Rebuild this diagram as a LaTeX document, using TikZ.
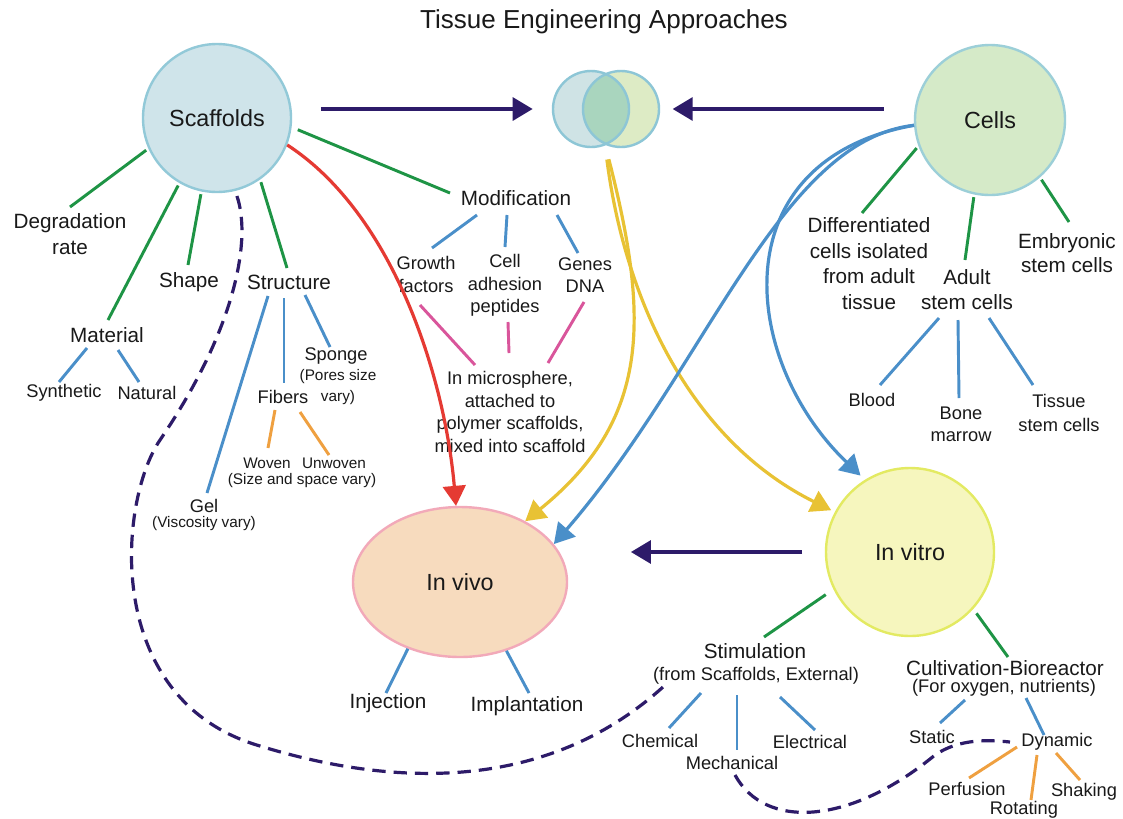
\documentclass[tikz,border=0pt]{standalone}
\usepackage{fontspec}
\setmainfont{Liberation Sans}
\usetikzlibrary{arrows.meta,shapes.geometric,calc}
\definecolor{cnavy}{RGB}{45,27,105}
\definecolor{cgreen}{RGB}{30,148,69}
\definecolor{cblue}{RGB}{74,143,201}
\definecolor{cred}{RGB}{229,58,51}
\definecolor{cyellow}{RGB}{232,194,52}
\definecolor{cpink}{RGB}{217,85,155}
\definecolor{corange}{RGB}{239,160,64}
\definecolor{scaffill}{RGB}{207,228,234}
\definecolor{scafdraw}{RGB}{146,201,216}
\definecolor{cellfill}{RGB}{213,234,200}
\definecolor{celldraw}{RGB}{156,207,216}
\definecolor{vlfill}{RGB}{207,227,229}
\definecolor{vrfill}{RGB}{221,235,197}
\definecolor{vofill}{RGB}{169,213,190}
\definecolor{vdraw}{RGB}{141,198,214}
\definecolor{vivofill}{RGB}{247,219,190}
\definecolor{vivodraw}{RGB}{242,169,185}
\definecolor{vitrofill}{RGB}{246,246,190}
\definecolor{vitrodraw}{RGB}{227,234,98}
\definecolor{txt}{RGB}{25,25,25}
\begin{document}
\begin{tikzpicture}[x=0.75pt,y=-0.75pt,
  every node/.style={text=txt},
  titlef/.style={font=\fontsize{19.5}{23}\selectfont, inner sep=0pt},
  big/.style={font=\fontsize{17.5}{21}\selectfont},
  mid/.style={font=\fontsize{15.5}{19}\selectfont, align=center, inner sep=0pt},
  sml/.style={font=\fontsize{13.7}{16.8}\selectfont, align=center, inner sep=0pt},
  tny/.style={font=\fontsize{11.5}{13.5}\selectfont, align=center, inner sep=0pt},
  gl/.style={draw=cgreen, line width=2.2pt},
  bl/.style={draw=cblue, line width=2.2pt},
  pl/.style={draw=cpink, line width=2.2pt},
  ol/.style={draw=corange, line width=2.2pt},
  navyarrow/.style={draw=cnavy, line width=3pt, -{Triangle[length=15pt,width=17pt]}},
  curvearrow/.style={line width=2.4pt, -{Triangle[length=15pt,width=17pt]}},
  dashline/.style={draw=cnavy, line width=2.4pt, dash pattern=on 10pt off 6pt},
  bigcircle/.style={circle, inner sep=0pt, line width=1.8pt, big}
]
\useasboundingbox (0,0) rectangle (1123,818);
\fill[white] (0,0) rectangle (1123,818);

% title
\node[titlef] (title) at (604,22) {Tissue Engineering Approaches};

% main shapes
\node[bigcircle, fill=scaffill, draw=scafdraw, minimum size=111pt] (scaf) at (217,118) {Scaffolds};
\node[bigcircle, fill=cellfill, draw=celldraw, minimum size=112.5pt] (cells) at (990,120) {Cells};
\node[ellipse, inner sep=0pt, line width=1.8pt, big, fill=vivofill, draw=vivodraw, minimum width=160.5pt, minimum height=112.5pt] (vivo) at (460,582) {In vivo};
\node[bigcircle, fill=vitrofill, draw=vitrodraw, minimum size=126pt] (vitro) at (910,552) {In vitro};

% venn
\node[circle, inner sep=0pt, fill=vlfill, minimum size=57pt] (vl) at (591,109) {};
\node[circle, inner sep=0pt, fill=vrfill, minimum size=57pt] (vr) at (621,109) {};
\begin{scope}
  \clip (vl.center) circle[radius=38];
  \fill[vofill] (vr.center) circle[radius=38];
\end{scope}
\draw[vdraw, line width=1.8pt] (vl.center) circle[radius=38];
\draw[vdraw, line width=1.8pt] (vr.center) circle[radius=38];

% labels - scaffolds side
\node[mid] (degr) at (70,234) {Degradation\\rate};
\node[mid] (shape) at (189,282) {Shape};
\node[mid] (struct) at (289,282) {Structure};
\node[mid] (mat) at (107,335) {Material};
\node[sml] (synt) at (64,393) {Synthetic};
\node[sml] (natu) at (147,393) {Natural};
\node[sml] (sponge) at (336,356) {Sponge};
\node[tny, font=\fontsize{11.5}{15.5}\selectfont] (spongenote) at (338,387) {(Pores size\\vary)};
\node[sml] (fibers) at (283,397) {Fibers};
\node[tny] (woven) at (267,463) {Woven};
\node[tny] (unwoven) at (334,463) {Unwoven};
\node[tny] (wovennote) at (302,481) {(Size and space vary)};
\node[sml] (gel) at (204,506) {Gel};
\node[tny] (gelnote) at (204,524) {(Viscosity vary)};
\node[mid] (modi) at (516,198) {Modification};
\node[sml] (growth) at (426,274.5) {Growth\\factors};
\node[sml] (celladh) at (505,285.5) {Cell\\adhesion\\peptides};
\node[sml] (genes) at (585,275) {Genes\\DNA};
\node[sml, font=\fontsize{13.7}{17}\selectfont] (micro) at (510,412) {In microsphere,\\attached to\\polymer scaffolds,\\mixed into scaffold};

% labels - cells side
\node[mid, font=\fontsize{15.5}{19.3}\selectfont] (diff) at (869,263.5) {Differentiated\\cells isolated\\from adult\\tissue};
\node[mid] (adult) at (967,289.5) {Adult\\stem cells};
\node[mid, font=\fontsize{15.5}{18.5}\selectfont] (embryo) at (1067,253) {Embryonic\\stem cells};
\node[sml] (blood) at (872,400) {Blood};
\node[sml] (bone) at (961,424) {Bone\\marrow};
\node[sml, font=\fontsize{13.7}{18}\selectfont] (tissue) at (1059,412.5) {Tissue\\stem cells};

% labels - bottom
\node[mid] (inj) at (388,703) {Injection};
\node[mid] (impl) at (527,706) {Implantation};
\node[mid] (stim) at (755,651) {Stimulation};
\node[sml] (stimnote) at (756,676) {(from Scaffolds, External)};
\node[mid] (cult) at (1005,668) {Cultivation-Bioreactor};
\node[sml] (cultnote) at (1004,688) {(For oxygen, nutrients)};
\node[sml] (chem) at (660,741) {Chemical};
\node[sml] (mech) at (732,763) {Mechanical};
\node[sml] (elec) at (810,742) {Electrical};
\node[sml] (static) at (932,737) {Static};
\node[sml] (dyn) at (1057,742) {Dynamic};
\node[sml] (perf) at (967,789) {Perfusion};
\node[sml] (rot) at (1024,810) {Rotating};
\node[sml] (shak) at (1084,792) {Shaking};

% green lines from scaffolds
\draw[gl, shorten <=2pt] (scaf.204) -- ($(degr)+(0,-27)$);
\draw[gl, shorten <=2pt] (scaf.240) -- ($(mat)+(1,-15)$);
\draw[gl, shorten <=2pt] (scaf.258) -- ($(shape)+(-1,-17)$);
\draw[gl, shorten <=2pt] (scaf.-55) -- ($(struct)+(-2,-14)$);
\draw[gl, shorten <=5pt] (scaf.-7) -- ($(modi)+(-66,-5)$);

% material
\draw[bl] ($(mat)+(-20,13)$) -- ($(synt)+(-5,-11)$);
\draw[bl] ($(mat)+(11,15)$) -- ($(natu)+(-8,-11)$);
% structure
\draw[bl] ($(struct)+(-21,14)$) -- ($(gel)+(3,-13)$);
\draw[bl] ($(struct)+(-5,16)$) -- ($(fibers)+(1,-14)$);
\draw[bl] ($(struct)+(16,13)$) -- ($(sponge)+(-6,-9)$);
\draw[ol] ($(fibers)+(-8,13)$) -- ($(woven)+(1,-15)$);
\draw[ol] ($(fibers)+(17,15)$) -- ($(unwoven)+(-5,-8)$);
% modification
\draw[bl] ($(modi)+(-39,17)$) -- ($(growth)+(6,-26.5)$);
\draw[bl] ($(modi)+(-9,17)$) -- ($(celladh)+(0,-38.5)$);
\draw[bl] ($(modi)+(41,17)$) -- ($(genes)+(-7,-22)$);
\draw[pl] ($(growth)+(-6,30.5)$) -- ($(micro)+(-35,-47)$);
\draw[pl] ($(celladh)+(3,36.5)$) -- ($(micro)+(-1,-59)$);
\draw[pl] ($(genes)+(-1,27)$) -- ($(micro)+(38,-49)$);

% cells
\draw[gl, shorten <=2pt] (cells.200) -- ($(diff)+(-7,-50.5)$);
\draw[gl, shorten <=2pt] (cells.258) -- ($(adult)+(-2,-29.5)$);
\draw[gl, shorten <=2pt] (cells.-49) -- ($(embryo)+(2,-31)$);
\draw[bl] ($(adult)+(-28,28.5)$) -- ($(blood)+(8,-15)$);
\draw[bl] ($(adult)+(-9,30.5)$) -- ($(bone)+(-2,-26)$);
\draw[bl] ($(adult)+(22,28.5)$) -- ($(tissue)+(-26,-27.5)$);

% in vivo
\draw[bl] (vivo.232) -- ($(inj)+(-2,-10)$);
\draw[bl] (vivo.-56) -- ($(impl)+(2,-13)$);

% in vitro
\draw[gl, shorten <=7pt] (vitro.206) -- ($(stim)+(9,-14)$);
\draw[gl, shorten <=4pt] (vitro.-42) -- ($(cult)+(3,-11)$);
\draw[bl] ($(stimnote)+(-55,17)$) -- ($(chem)+(9,-13)$);
\draw[bl] ($(stimnote)+(-19,19)$) -- ($(mech)+(5,-13)$);
\draw[bl] ($(stimnote)+(24,21)$) -- ($(elec)+(5,-12)$);
\draw[bl] ($(cultnote)+(-39,12)$) -- ($(static)+(8,-14)$);
\draw[bl] ($(cultnote)+(22,10)$) -- ($(dyn)+(-13,-7)$);
\draw[ol] ($(dyn)+(-40,5)$) -- ($(perf)+(2,-11)$);
\draw[ol] ($(dyn)+(-20,13)$) -- ($(rot)+(7,-10)$);
\draw[ol] ($(dyn)+(-1,11)$) -- ($(shak)+(-4,-12)$);

% dashed connections
\draw[dashline, shorten <=4pt] (scaf.-76) .. controls (252,240) and (235,330) .. (160,440)
  .. controls (118,502) and (102,700) .. (260,746)
  .. controls (420,795) and (560,780) .. ($(stimnote)+(-93,11)$);
\draw[dashline] ($(mech)+(3,12)$) .. controls (765,830) and (850,825) .. (935,755)
  .. controls (960,738) and (990,740) .. ($(dyn)+(-47,0)$);

% navy arrows
\draw[navyarrow, shorten <=21.5pt, shorten >=15pt] (scaf.east |- vl.west) -- (vl.west);
\draw[navyarrow, shorten <=22.5pt, shorten >=10pt] (cells.west |- vr.east) -- (vr.east);
\draw[navyarrow, shorten <=17pt, shorten >=47pt] (vitro.west) -- (vivo.east |- vitro.west);

% curved arrows
\draw[curvearrow, cred] (scaf.-21) .. controls (395,215) and (445,380) .. (vivo.93);
\draw[curvearrow, cyellow, shorten <=12pt] (vr.-115) .. controls (650,320) and (650,420) .. (vivo.43);
\draw[curvearrow, cyellow, shorten <=12pt, shorten >=3pt] (vr.-115) .. controls (625,300) and (690,440) .. (vitro.152);
\draw[curvearrow, cblue] (cells.184) .. controls (780,140) and (705,370) .. (vivo.22);
\draw[curvearrow, cblue, shorten >=4.5pt] (cells.184) .. controls (720,160) and (740,360) .. (vitro.122);
\end{tikzpicture}
\end{document}
